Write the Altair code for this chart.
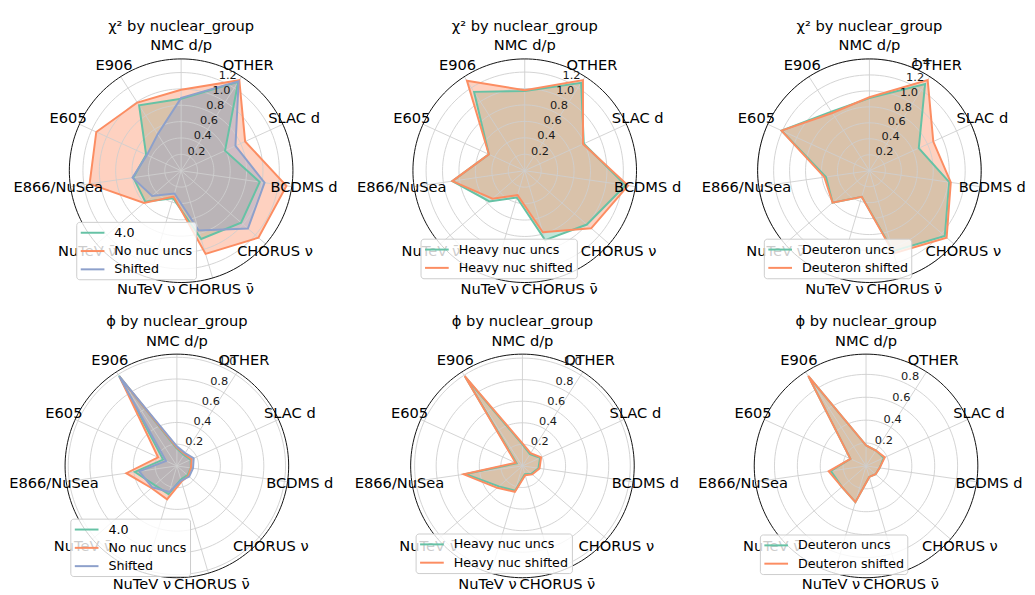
import math
import altair as alt
import pandas as pd

# ---------------- data ----------------
categories = ["NMC d/p", "OTHER", "SLAC d", "BCDMS d", "CHORUS ν", "CHORUS ν\u0304",
              "NuTeV ν", "NuTeV ν\u0304", "E866/NuSea", "E605", "E906"]

# chi2 panels
chi2_fit40 = [0.88, 1.29, 0.59, 0.97, 0.97, 0.87, 0.35, 0.58, 0.59, 0.47, 0.95]
chi2_nonuc = [0.99, 1.315, 0.86, 1.30, 1.25, 1.06, 0.33, 0.60, 1.13, 1.14, 0.99]
chi2_shift = [0.89, 1.30, 0.73, 1.03, 1.08, 0.76, 0.29, 0.47, 0.60, 0.46, 0.53]

chi2_heavy_uncs = [0.97, 1.27, 0.79, 1.24, 1.00, 0.88, 0.34, 0.57, 0.89, 0.48, 1.14]
chi2_heavy_shift = [0.98, 1.31, 0.78, 1.27, 1.07, 0.78, 0.31, 0.52, 0.89, 0.48, 1.30]

chi2_deut_uncs = [0.91, 1.29, 0.68, 1.01, 1.25, 1.05, 0.34, 0.61, 0.55, 1.21, 0.88]
chi2_deut_shift = [0.92, 1.35, 0.88, 1.03, 1.28, 1.08, 0.34, 0.61, 0.57, 1.21, 0.86]

# phi panels
phi_fit40 = [0.16, 0.12, 0.14, 0.13, 0.13, 0.13, 0.27, 0.27, 0.39, 0.14, 0.985]
phi_nonuc = [0.17, 0.13, 0.15, 0.13, 0.14, 0.15, 0.32, 0.31, 0.47, 0.19, 0.975]
phi_shift = [0.18, 0.14, 0.17, 0.15, 0.15, 0.14, 0.25, 0.30, 0.35, 0.11, 0.98]

phi_heavy_uncs = [0.20, 0.13, 0.18, 0.15, 0.11, 0.08, 0.24, 0.29, 0.53, 0.06, 0.985]
phi_heavy_shift = [0.21, 0.14, 0.19, 0.16, 0.12, 0.09, 0.25, 0.31, 0.55, 0.07, 0.99]

phi_deut_uncs = [0.18, 0.16, 0.17, 0.12, 0.11, 0.10, 0.33, 0.28, 0.31, 0.15, 0.93]
phi_deut_shift = [0.18, 0.16, 0.18, 0.12, 0.11, 0.10, 0.33, 0.28, 0.33, 0.15, 0.935]

names_main = ["4.0", "No nuc uncs", "Shifted"]
names_heavy = ["Heavy nuc uncs", "Heavy nuc shifted"]
names_deut = ["Deuteron uncs", "Deuteron shifted"]

GREEN, ORANGE, BLUE = "#66c2a5", "#fc8d62", "#8da0cb"
title_chi2 = "χ² by nuclear_group"
title_phi = "ϕ by nuclear_group"

# ---------------- layout ----------------
W, H = 339, 289
R_PX = 113.0
FONT = "DejaVu Sans"
N = len(categories)


def panel(title, names, values, colors, cx, cy, lx, ly):
    rows = []
    for name, vals in zip(names, values):
        for k, v in enumerate(vals):
            rows.append({"series": name, "cat": categories[k], "k": k, "value": v})
    df = pd.DataFrame(rows)
    allv = [v for vals in values for v in vals]
    vmax, vmin = max(allv), min(allv)
    rmax = vmax + 0.05 * (vmax - vmin)
    upp = rmax / R_PX
    xs = alt.Scale(domain=[-cx * upp, (W - cx) * upp], nice=False, zero=False)
    ys = alt.Scale(domain=[-(H - cy) * upp, cy * upp], nice=False, zero=False)
    X = lambda f: alt.X(f, type="quantitative", scale=xs, axis=None)
    Y = lambda f: alt.Y(f, type="quantitative", scale=ys, axis=None)
    ang = f"datum.k*2*PI/{N}"

    ticks = []
    t = 0.2
    while t <= rmax + 1e-9:
        ticks.append(round(t, 1))
        t += 0.2

    ring_rows = []
    for tv in ticks:
        for d in range(0, 361, 3):
            ring_rows.append({"r": tv, "deg": d})
    rings = pd.DataFrame(ring_rows)
    outer = pd.DataFrame([{"r": rmax, "deg": d} for d in range(0, 361, 2)])

    ring_tf = dict(px="datum.r*sin(datum.deg*PI/180)", py="datum.r*cos(datum.deg*PI/180)")

    grid = alt.Chart(rings).transform_calculate(**ring_tf).mark_line(
        stroke="#cfcfcf", strokeWidth=0.9
    ).encode(x=X("px"), y=Y("py"), detail="r:N", order="deg:Q")

    spine = alt.Chart(outer).transform_calculate(**ring_tf).mark_line(
        stroke="#111111", strokeWidth=1.0
    ).encode(x=X("px"), y=Y("py"), order="deg:Q")

    spokes_df = pd.DataFrame({"k": list(range(N))})
    spokes = alt.Chart(spokes_df).transform_calculate(
        x0="0", y0="0",
        x1=f"{rmax}*sin({ang})", y1=f"{rmax}*cos({ang})"
    ).mark_rule(stroke="#cfcfcf", strokeWidth=0.9).encode(
        x=X("x0"), y=Y("y0"), x2="x1:Q", y2="y1:Q")

    pts = dict(px=f"datum.value*sin({ang})", py=f"datum.value*cos({ang})")

    fills = []
    strokes = []
    for name, col in zip(names, colors):
        base = alt.Chart(df).transform_filter(
            alt.datum.series == name).transform_calculate(**pts)
        fills.append(base.mark_line(
            interpolate="linear-closed", fill=col, fillOpacity=0.4,
            strokeOpacity=0, strokeWidth=0
        ).encode(x=X("px"), y=Y("py"), order="k:Q"))
        strokes.append(base.mark_line(
            interpolate="linear-closed", strokeWidth=2, fillOpacity=0
        ).encode(
            x=X("px"), y=Y("py"), order="k:Q",
            stroke=alt.Stroke("series:N",
                              scale=alt.Scale(domain=names, range=colors),
                              legend=alt.Legend(
                                  orient="none", legendX=lx, legendY=ly,
                                  title=None, direction="vertical",
                                  symbolType="M-1.71,0H1.71", symbolSize=196,
                                  symbolStrokeWidth=2, symbolOffset=5.5,
                                  labelFont=FONT, labelFontSize=12.8,
                                  labelColor="#000000", labelOffset=14,
                                  fillColor="rgba(255,255,255,0.8)",
                                  strokeColor="#cccccc", cornerRadius=3,
                                  padding=3, rowPadding=3.5,
                                  labelLimit=300)))
        )

    labels_df = pd.DataFrame({"k": list(range(N)), "cat": categories})
    cat_labels = alt.Chart(labels_df).transform_calculate(
        px=f"{rmax * 1.111}*sin({ang})", py=f"{rmax * 1.111}*cos({ang})"
    ).mark_text(font=FONT, fontSize=14.8, color="#000000",
                align="center", baseline="middle").encode(
        x=X("px"), y=Y("py"), text="cat:N")

    tick_df = pd.DataFrame({"r": ticks, "lab": [f"{v:.1f}" for v in ticks]})
    tick_labels = alt.Chart(tick_df).transform_calculate(
        px="datum.r*sin(22.5*PI/180)", py="datum.r*cos(22.5*PI/180)"
    ).mark_text(font=FONT, fontSize=11.5, color="#1a1a1a",
                align="left", baseline="bottom", dy=1).encode(
        x=X("px"), y=Y("py"), text="lab:N")

    title_df = pd.DataFrame({"t": [title]})
    title_mark = alt.Chart(title_df).transform_calculate(
        px="0", py=f"{145.6 * upp}"
    ).mark_text(font=FONT, fontSize=14.8, color="#000000",
                align="center", baseline="middle").encode(
        x=X("px"), y=Y("py"), text="t:N")

    layers = fills + [grid, spokes] + strokes + [spine, cat_labels, tick_labels, title_mark]
    return alt.layer(*layers).properties(width=W, height=H)


p1 = panel(title_chi2, names_main, [chi2_fit40, chi2_nonuc, chi2_shift],
           [GREEN, ORANGE, BLUE], 172, 160.3, 66, 212)
p2 = panel(title_chi2, names_heavy, [chi2_heavy_uncs, chi2_heavy_shift],
           [GREEN, ORANGE], 180.3, 160.3, 75, 229)
p3 = panel(title_chi2, names_deut, [chi2_deut_uncs, chi2_deut_shift],
           [GREEN, ORANGE], 189.7, 160.3, 83, 229)
p4 = panel(title_phi, names_main, [phi_fit40, phi_nonuc, phi_shift],
           [GREEN, ORANGE, BLUE], 167.7, 169.7, 60, 223)
p5 = panel(title_phi, names_heavy, [phi_heavy_uncs, phi_heavy_shift],
           [GREEN, ORANGE], 178, 169.7, 70, 238)
p6 = panel(title_phi, names_deut, [phi_deut_uncs, phi_deut_shift],
           [GREEN, ORANGE], 186.3, 169.7, 79, 239)

chart = alt.concat(p1, p2, p3, p4, p5, p6, columns=3, spacing=0, bounds="flush").resolve_scale(
    x="independent", y="independent", stroke="independent").resolve_legend(
    stroke="independent").properties(padding=0).configure_view(stroke="transparent")

chart.save("out.html", embed_options={"renderer": "svg", "actions": False})
